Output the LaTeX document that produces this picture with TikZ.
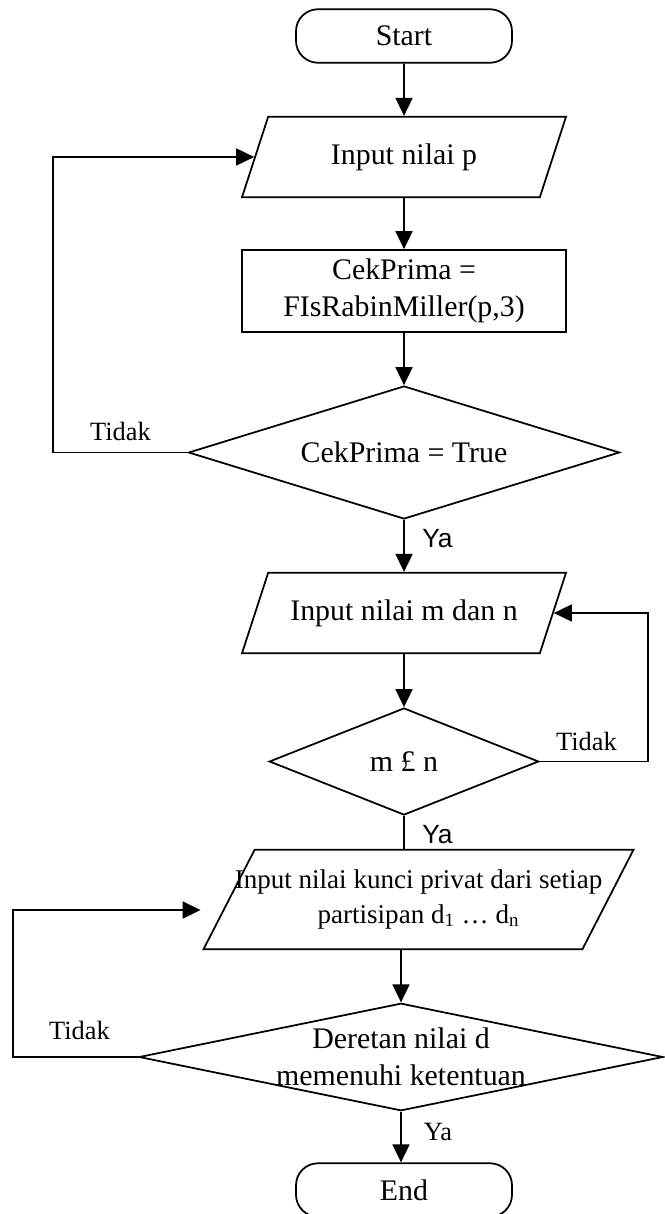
\documentclass[tikz,border=0pt]{standalone}
\usepackage{fontspec}
\setmainfont{Liberation Serif}
\newfontfamily\yafont{Liberation Sans}
\usetikzlibrary{arrows.meta, positioning, shapes.geometric}

\begin{document}
\begin{tikzpicture}[
    line width=1pt,
    every node/.style={font=\fontsize{17}{21}\selectfont},
    terminal/.style={draw, rectangle, rounded corners=0.44cm, minimum width=4.32cm, minimum height=1.07cm},
    io/.style={draw, trapezium, trapezium left angle=56, trapezium right angle=124, trapezium stretches body, minimum width=6.48cm, minimum height=1.61cm, inner xsep=-0.2cm},
    process/.style={draw, rectangle, minimum width=6.48cm, minimum height=1.64cm, align=center, inner sep=0pt},
    decision/.style={draw, diamond, inner sep=0pt, align=center},
    flow/.style={-{Triangle[length=0.36cm, width=0.34cm]}},
    lbl/.style={font=\fontsize{15}{18}\selectfont},
    yalbl/.style={font=\yafont\fontsize{15}{18}\selectfont}
  ]
  \useasboundingbox (0,0) rectangle (13.28,-24.28);

  % Main column
  \node[terminal] (start) at (8.08,-0.72) {Start};
  \node[io] (inp) at (8.08,-3.14) {Input nilai p};
  \node[process] (cek) at (8.08,-5.82) {CekPrima =\\FIsRabinMiller(p,3)};
  \node[decision, aspect=3.2, minimum width=8.62cm, minimum height=2.66cm] (prima) at (8.08,-9.05) {CekPrima = True};
  \node[io] (inmn) at (8.08,-12.26) {Input nilai m dan n};
  \node[decision, aspect=2.5, minimum width=5.39cm, minimum height=2.14cm] (mlen) at (8.08,-15.23) {m £ n};
  \node[io, trapezium left angle=54, trapezium right angle=126, minimum width=8.6cm, minimum height=1.99cm, inner xsep=-1cm, align=center, font=\fontsize{15.4}{19.4}\selectfont] (inkey) at (8.37,-17.99) {Input nilai kunci privat dari setiap\\partisipan d\textsubscript{1} … d\textsubscript{n}};
  \node[decision, aspect=5, minimum width=10.48cm, minimum height=2.15cm, inner xsep=-1cm] (cekd) at (8.02,-21.14) {Deretan nilai d\\memenuhi ketentuan};
  \node[terminal] (end) at (8.08,-23.8) {End};

  % Labels
  \node[lbl] (tidak1) at (2.41,-8.62) {Tidak};
  \node[yalbl] (ya1) at (8.75,-10.78) {Ya};
  \node[lbl] (tidak2) at (11.73,-14.82) {Tidak};
  \node[yalbl] (ya2) at (8.75,-16.70) {Ya};
  \node[lbl] (tidak3) at (1.59,-20.60) {Tidak};
  \node[lbl] (ya3) at (8.76,-22.63) {Ya};

  % Arrows
  \draw[flow] (start.south) -- (inp.north);
  \draw[flow] (inp.south) -- (cek.north);
  \draw[flow] (cek.south) -- (prima.north);
  \draw[flow] (prima.south) -- (inmn.north);
  \draw[flow] (inmn.south) -- (mlen.north);
  \draw (mlen.south) -- (mlen.south |- inkey.north);
  \draw[flow] (inkey.south -| cekd.north) -- (cekd.north);
  \draw[flow] (cekd.south) -- (cekd.south |- end.north);

  % Loops back
  \draw[flow] (prima.west) -- ++(-2.7,0) |- (inp.left side);
  \draw[flow] (mlen.east) -- ++(2.16,0) |- (inmn.right side);
  \draw[flow] (cekd.west) -- ++(-2.51,0) |- ([shift={(-0.55,-0.21)}]inkey.left side);
\end{tikzpicture}
\end{document}
